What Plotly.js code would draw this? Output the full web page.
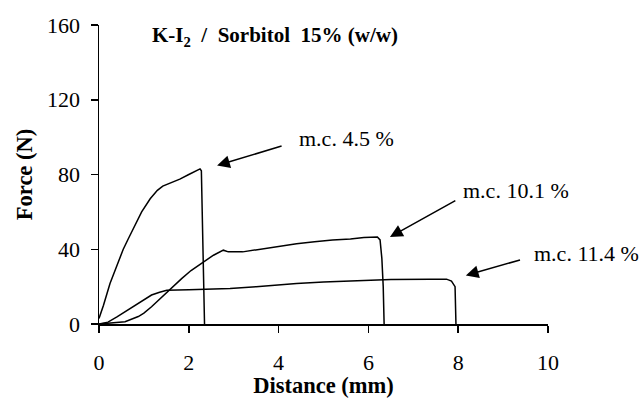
<!DOCTYPE html>
<html>
<head>
<meta charset="utf-8">
<script src="https://cdn.plot.ly/plotly-3.0.1.min.js"></script>
<style>
  html, body { margin: 0; padding: 0; background: #fff; }
  #chart { width: 642px; height: 398px; }
</style>
</head>
<body>
<div id="chart"></div>
<script>
// Puncture test curves: force vs. distance for three moisture contents
var mc45Dist  = [0, 0.1, 0.245, 0.4, 0.54, 0.65, 0.76, 0.95, 1.14, 1.3, 1.42, 1.55, 1.8, 2.0, 2.25, 2.28, 2.33, 2.35];
var mc45Force = [3, 10, 21.7, 31, 40, 45.5, 51, 60, 67, 71.5, 73.8, 75, 77.5, 80, 83, 82, 20, 0];

var mc101Dist  = [0, 0.25, 0.58, 0.875, 1.0, 1.17, 1.35, 1.51, 1.68, 1.84, 2.05, 2.29, 2.55, 2.77, 2.88, 3.2, 3.6, 4.0, 4.4, 4.8, 5.2, 5.6, 5.9, 6.2, 6.26, 6.3, 6.33, 6.35];
var mc101Force = [0, 0.4, 1.2, 4, 5.8, 9.2, 13.2, 17.2, 21, 24.3, 28.6, 32.4, 36.8, 39.5, 38.6, 38.6, 40, 41.5, 43, 44, 45, 45.5, 46.3, 46.6, 45, 35, 20, 0];

var mc114Dist  = [0, 0.2, 0.4, 0.58, 0.75, 0.875, 1.0, 1.17, 1.35, 1.51, 2.0, 2.5, 2.92, 3.5, 4.0, 4.4, 5.0, 5.89, 6.5, 7.37, 7.74, 7.85, 7.93, 7.95];
var mc114Force = [0, 1, 3.8, 6.6, 9, 11, 13, 15.5, 17, 18.1, 18.3, 18.6, 19, 20, 21, 21.7, 22.5, 23.5, 23.8, 24, 24, 23, 20, 0];

var xTicks = [0, 2, 4, 6, 8, 10];
var yTicks = [0, 40, 80, 120, 160];

// Labels and arrow endpoints (text anchor, arrow tail, arrow tip) in data units
var labels   = ['m.c. 4.5 %', 'm.c. 10.1 %', 'm.c. 11.4 %'];
var labelX   = [4.41, 8.06, 9.64];
var labelY   = [99.2, 71.5, 37.9];
var tailX    = [4.10, 7.97, 9.41];
var tailY    = [95.5, 66.5, 34.5];
var tipX     = [2.63, 6.48, 8.17];
var tipY     = [84.8, 46.6, 26.0];

var serif = '"Liberation Serif", "Times New Roman", serif';
var lineStyle = { color: '#000', width: 1.5 };

var traces = [
  { x: mc45Dist,  y: mc45Force,  mode: 'lines', line: lineStyle, name: 'm.c. 4.5 %' },
  { x: mc101Dist, y: mc101Force, mode: 'lines', line: lineStyle, name: 'm.c. 10.1 %' },
  { x: mc114Dist, y: mc114Force, mode: 'lines', line: lineStyle, name: 'm.c. 11.4 %' }
];

var annotations = [];
for (var i = 0; i < labels.length; i++) {
  annotations.push({
    x: tipX[i], y: tipY[i], ax: tailX[i], ay: tailY[i],
    xref: 'x', yref: 'y', axref: 'x', ayref: 'y',
    text: '', showarrow: true, arrowhead: 2, arrowsize: 1.7, arrowwidth: 1.5,
    arrowcolor: '#000'
  });
  annotations.push({
    x: labelX[i], y: labelY[i], xref: 'x', yref: 'y',
    text: labels[i], showarrow: false, xanchor: 'left', yanchor: 'middle',
    font: { family: serif, size: 22, color: '#000' }
  });
}

var nb = '\u00a0';
var layout = {
  width: 642, height: 398,
  margin: { l: 99, r: 94, t: 25, b: 74 },
  paper_bgcolor: '#fff', plot_bgcolor: '#fff',
  showlegend: false,
  font: { family: serif, size: 22, color: '#000' },
  title: {
    text: '<b>K-I<sub>2</sub>' + nb + nb + '/' + nb + nb + 'Sorbitol' + nb + nb + '15%' + nb + '(w/w)</b>',
    font: { family: serif, size: 21, color: '#000' },
    xref: 'paper', x: 0.118, xanchor: 'left',
    yref: 'container', y: 0.912, yanchor: 'middle'
  },
  xaxis: {
    range: [0, 10], tickvals: xTicks, ticktext: xTicks.map(String),
    showgrid: false, zeroline: false, showline: true, linecolor: '#000', linewidth: 1.5,
    ticks: 'outside', ticklen: 7, tickwidth: 1.5, tickcolor: '#000',
    ticklabelstandoff: 11,
    tickfont: { family: serif, size: 22, color: '#000' },
    title: { text: '<b>Distance (mm)</b>', font: { family: serif, size: 22.5, color: '#000' }, standoff: 6 }
  },
  yaxis: {
    range: [0, 160], tickvals: yTicks, ticktext: yTicks.map(String),
    showgrid: false, zeroline: false, showline: true, linecolor: '#000', linewidth: 1.5,
    ticks: 'outside', ticklen: 7, tickwidth: 1.5, tickcolor: '#000',
    ticklabelstandoff: 6,
    tickfont: { family: serif, size: 22, color: '#000' },
    title: { text: '<b>Force (N)</b>', font: { family: serif, size: 22.5, color: '#000' }, standoff: 8 }
  },
  annotations: annotations
};

Plotly.newPlot('chart', traces, layout, { displayModeBar: false, staticPlot: true });
</script>
</body>
</html>
